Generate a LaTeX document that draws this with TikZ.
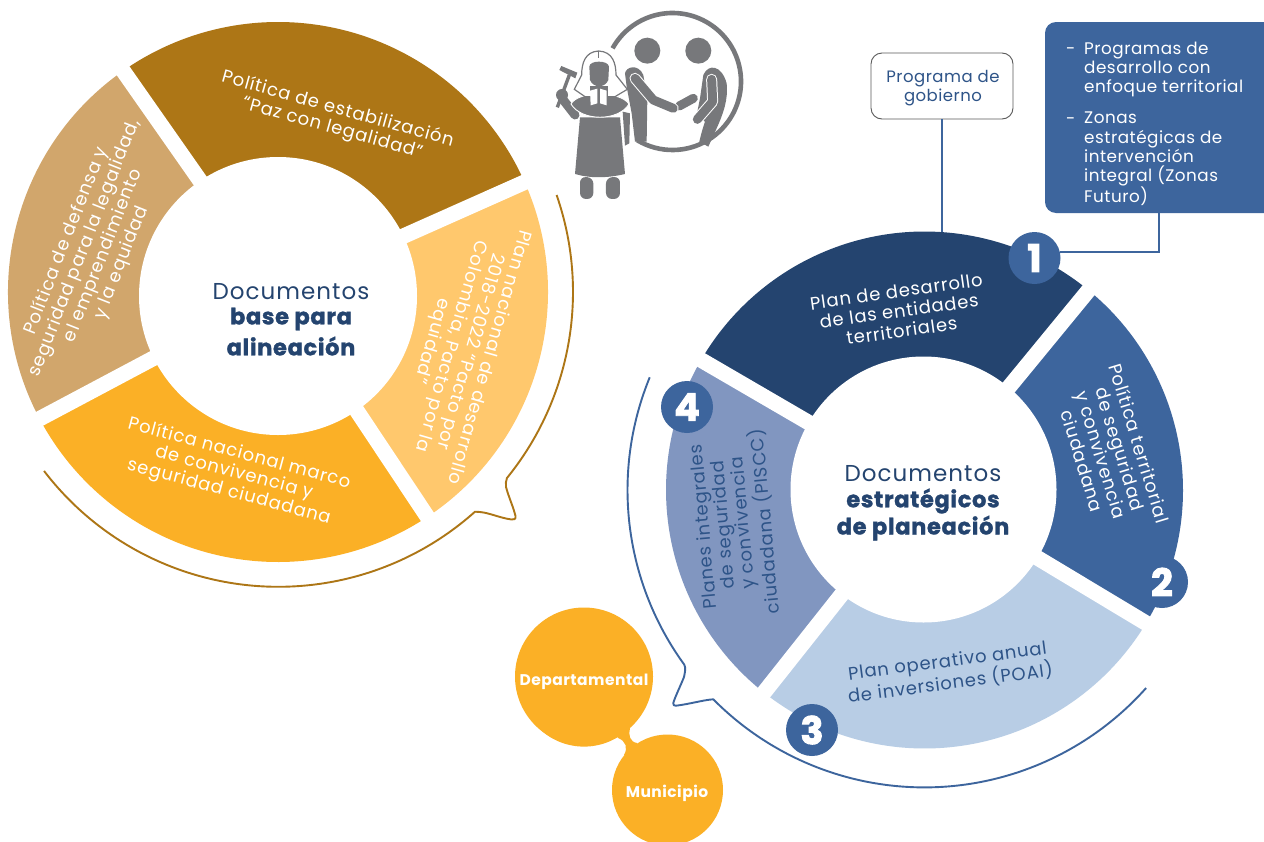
\documentclass[tikz,border=0pt]{standalone}
\usepackage{fontspec}
\setmainfont{Poppins}
\newfontfamily\bodyf[LetterSpace=4.5]{Poppins}
\newfontfamily\sidef[LetterSpace=3]{Poppins}
\newfontfamily\heavyf[LetterSpace=3,BoldFeatures={FakeBold=1.4}]{Poppins}
\newfontfamily\lvlf[LetterSpace=3]{Poppins}
\newfontfamily\numf[BoldFeatures={FakeBold=2.5}]{Poppins}
\definecolor{cbrown}{HTML}{AD7616}
\definecolor{ctan}{HTML}{D1A66C}
\definecolor{clight}{HTML}{FFC86D}
\definecolor{corange}{HTML}{FBB026}
\definecolor{cdark}{HTML}{24446F}
\definecolor{ctext}{HTML}{2E5488}
\definecolor{cblue}{HTML}{3D659D}
\definecolor{cpale}{HTML}{B8CDE5}
\definecolor{cmid}{HTML}{8196C0}
\definecolor{cgray}{HTML}{77787B}
\tikzset{
  lbl/.style={font=\bodyf\fontsize{18}{19.8}\selectfont,align=center,inner sep=0pt,text=white},
  lblb/.style={lbl,text=ctext},
  head/.style={font=\bodyf\fontsize{23}{27}\selectfont,align=center,inner sep=0pt,text=cdark},
  headb/.style={font=\heavyf\bfseries\fontsize{22.5}{27}\selectfont,align=center,inner sep=0pt,text=cdark},
  badge/.style={circle,fill=cblue,minimum size=52pt,inner sep=0pt,text=white,font=\numf\bfseries\fontsize{38}{38}\selectfont},
  gap/.style={white,line width=15.5pt},
  lvl/.style={circle,fill=corange,inner sep=0pt,text=white,font=\lvlf\bfseries\fontsize{15.5}{17}\selectfont},
  sidet/.style={font=\sidef\fontsize{16.8}{19.1}\selectfont,align=left,inner sep=0pt,text=white,anchor=north west},
  dasht/.style={font=\sidef\fontsize{16.8}{19.1}\selectfont,inner sep=0pt,text=white,anchor=base west},
  iconf/.style={fill=cgray,draw=none},
  arm/.style={line cap=round,line join=round,line width=9pt,cgray},
  armw/.style={line cap=round,line join=round,line width=11pt,white},
}
\begin{document}
\begin{tikzpicture}[x=1pt,y=1pt]
\useasboundingbox (0,0) rectangle (1264,-841);
\fill[white] (0,0) rectangle (1264,-841);
\coordinate (lc) at (278,-292);
\coordinate (rc) at (924.5,-490);

% left callout
\draw[cbrown,line width=1.9pt,line join=round]
  ([shift={(19.2:295)}]lc) arc[start angle=19.2,end angle=-39.1,radius=295]
  .. controls (506,-481) and (505.5,-484) .. (506,-487)
  .. controls (509,-498) and (513,-506) .. (515.5,-516)
  .. controls (516,-519) and (514,-520) .. (511.7,-519.5)
  .. controls (500,-518) and (490,-513) .. (480,-512)
  -- (475,-511.7) arc[start angle=-48.2,end angle=-142.6,radius=295];
% right callout
\draw[cblue,line width=1.9pt,line join=round]
  ([shift={(157.7:297)}]rc) arc[start angle=157.7,end angle=216,radius=297]
  .. controls (686,-668) and (685,-672) .. (684,-677)
  .. controls (680,-687) and (675,-697) .. (673.3,-703)
  .. controls (673,-705) and (674,-706) .. (676,-705.7)
  .. controls (690,-704) and (703,-700) .. (713.3,-699.3)
  arc[start angle=224.7,end angle=318.3,radius=297];

% left donut
\fill[cbrown] (lc) -- ([shift={(24:270)}]lc) arc[start angle=24,end angle=125,radius=270] -- cycle;
\fill[ctan] (lc) -- ([shift={(125:270)}]lc) arc[start angle=125,end angle=208,radius=270] -- cycle;
\fill[corange] (lc) -- ([shift={(208:270)}]lc) arc[start angle=208,end angle=303.6,radius=270] -- cycle;
\fill[clight] (lc) -- ([shift={(303.6:270)}]lc) arc[start angle=303.6,end angle=384,radius=270] -- cycle;
\draw[gap] (lc) -- ([shift={(24:274)}]lc);
\draw[gap] (lc) -- ([shift={(125:274)}]lc);
\draw[gap] (lc) -- ([shift={(208:274)}]lc);
\draw[gap] (lc) -- ([shift={(303.6:274)}]lc);
\fill[white] (278,-296) circle[radius=139];

% right donut connectors
\node[draw=black!65,fill=white,rounded corners=11pt,line width=0.9pt,minimum width=142pt,minimum height=66pt,inner sep=0pt] (prog) at (942,-86) {};
\node[font=\sidef\fontsize{16.5}{19.2}\selectfont,align=center,inner sep=0pt,text=ctext] (progt) at (943,-88.5) {Programa de\\gobierno};
\coordinate (progend) at (942,-240);
\draw[cblue,line width=2pt] (prog.south) -- (progend);
\node[fill=cblue,rounded corners=11pt,minimum width=240pt,minimum height=191pt,inner sep=0pt] (side) at (1165,-117.5) {};

% right donut
\fill[cdark] (rc) -- ([shift={(50.6:258.5)}]rc) arc[start angle=50.6,end angle=149.8,radius=258.5] -- cycle;
\fill[cmid] (rc) -- ([shift={(149.8:258.5)}]rc) arc[start angle=149.8,end angle=231.6,radius=258.5] -- cycle;
\fill[cpale] (rc) -- ([shift={(231.6:258.5)}]rc) arc[start angle=231.6,end angle=329,radius=258.5] -- cycle;
\fill[cblue] (rc) -- ([shift={(329:258.5)}]rc) arc[start angle=329,end angle=410.6,radius=258.5] -- cycle;
\draw[gap] (rc) -- ([shift={(50.6:262)}]rc);
\draw[gap] (rc) -- ([shift={(149.8:262)}]rc);
\draw[gap] (rc) -- ([shift={(231.6:262)}]rc);
\draw[gap] (rc) -- ([shift={(329:262)}]rc);
\fill[white] (923.5,-489.5) circle[radius=133];

% badges
\node[badge] (b1) at (1034.5,-258) {1};
\node[badge] (b2) at (1162,-582) {2};
\node[badge] (b3) at (812,-730) {3};
\node[badge] (b4) at (687,-407) {4};
\coordinate (sidec) at (1158.5,-213);
\draw[cblue,line width=2pt] (sidec) |- (b1.13);

% side box text
\node[dasht] (d1) at (1066,-54) {-};
\node[sidet] (s1) at (1084,-42) {Programas de\\desarrollo con\\enfoque territorial};
\node[dasht] (d2) at (1066,-124) {-};
\node[sidet] (s2) at (1084,-112) {Zonas\\estratégicas de\\intervención\\integral (Zonas\\Futuro)};

% left labels
\node[lbl,rotate=-15.6] (t1) at (335,-119) {Política de estabilización\\“Paz con legalidad”};
\node[lbl,rotate=68.5] (t2) at (94,-252) {Política de defensa y\\seguridad para la legalidad,\\el emprendimiento\\y la equidad};
\node[lbl,rotate=-106] (t3) at (460,-349) {Plan nacional de desarrollo\\2018-2022 “Pacto por\\Colombia, Pacto por la\\equidad”};
\node[lbl,rotate=-15] (t4) at (234,-473) {Política nacional marco\\de convivencia y\\seguridad ciudadana};
\node[head] (h1) at (291,-292) {Documentos};
\node[headb] (h2) at (291,-319) {base para};
\node[headb] (h3) at (291,-346) {alineación};

% right labels
\node[lbl,rotate=8] (r1) at (899,-311) {Plan de desarrollo\\de las entidades\\territoriales};
\node[lbl,rotate=-73] (r2) at (1111,-452) {Política territorial\\de seguridad\\y convivencia\\ciudadana};
\node[lblb,rotate=7.5] (r3) at (949,-673) {Plan operativo anual\\de inversiones (POAI)};
\node[lblb,rotate=95] (r4) at (735,-524) {Planes integrales\\de seguridad\\y convivencia\\ciudadana (PISCC)};
\node[head] (h4) at (923,-474) {Documentos};
\node[headb] (h5) at (923,-501) {estratégicos};
\node[headb] (h6) at (923,-528) {de planeación};

% level bubbles
\fill[corange] (618,-738) .. controls (626,-741) and (628,-748) .. (624,-755) -- (640,-762)
  -- (637,-743) .. controls (630,-742) and (628,-735) .. (630,-728) -- (610,-720) -- cycle;
\node[lvl,minimum size=138pt] (dep) at (584,-676.5) {};
\node[lvl,minimum size=111pt] (mun) at (667.5,-790) {};
\node[lvl] (dept) at (584,-682) {Departamental};
\node[lvl] (munt) at (667,-793) {Municipio};

% icon
\begin{scope}[shift={(540,0)},x=0.3333pt,y=-0.3333pt]
  % left person
  \fill[iconf] (255,220) .. controls (258,200) and (295,190) .. (310,225) -- (322,300) -- (320,425) -- (285,425) -- (275,340) -- (260,260) -- cycle;
  % right person
  \fill[iconf] (490,225) .. controls (505,190) and (545,195) .. (560,250) .. controls (565,300) and (550,340) .. (530,385) -- (505,440) -- (478,425) .. controls (485,395) and (490,380) .. (495,365) -- (470,345) -- (480,295) -- cycle;
  \draw[arm] (460,295) -- (418,318);
  \draw[armw] (515,238) -- (518,305) -- (472,358);
  \draw[arm] (515,238) -- (518,305) -- (472,358);
  \draw[armw] (285,235) -- (340,300) -- (400,325);
  \draw[arm] (285,235) -- (340,300) -- (400,325);
  % gavel
  \draw[cgray,line width=3.4pt] (88,225) -- (52,322);
  \fill[iconf] (58,210) -- (64,198) -- (112,218) -- (106,235) -- cycle;
  \fill[iconf] (66,285) circle[radius=6pt];
  \draw[cgray,line width=9pt,line cap=round] (70,300) -- (105,345);
  % robe
  \fill[iconf] (248,335) -- (270,340) -- (268,430) -- (255,437) -- cycle;
  \fill[iconf] (120,352) -- (240,352) -- (255,522) .. controls (200,535) and (150,535) .. (105,522) -- cycle;
  \fill[iconf,draw=white,line width=0.9pt] (93,312) .. controls (115,272) and (240,272) .. (267,312) .. controls (235,365) and (125,365) .. (93,312) -- cycle;
  % wig
  \fill[white,draw=cgray,line width=1.2pt] (176,153) .. controls (135,155) and (125,190) .. (125,225) -- (103,268) -- (135,290) -- (225,290) -- (262,268) -- (228,225) .. controls (228,190) and (218,155) .. (176,153) -- cycle;
  \draw[cgray,line width=1.2pt] (176,153) -- (176,175);
  \fill[iconf] (148,200) .. controls (148,180) and (205,180) .. (207,200) -- (205,240) .. controls (195,265) and (160,265) .. (150,240) -- cycle;
  \fill[iconf] (150,258) -- (205,258) -- (205,300) -- (150,300) -- cycle;
  \fill[white] (150,272) -- (172,266) -- (172,310) -- (152,316) -- cycle;
  \fill[white] (180,266) -- (200,272) -- (200,316) -- (180,310) -- cycle;
  % legs
  \fill[iconf,rounded corners=6pt] (120,530) -- (160,533) -- (160,597) -- (120,597) -- cycle;
  \fill[iconf,rounded corners=6pt] (198,533) -- (240,530) -- (240,597) -- (198,597) -- cycle;
  % heads
  \fill[iconf] (322,152) circle[radius=13pt];
  \fill[iconf] (475,152) circle[radius=13pt];
\end{scope}
\draw[cgray,line width=4.6pt] ([shift={(151:68.5)}]672.5,-81.5) arc[start angle=151,end angle=-121,radius=68.5];
\end{tikzpicture}
\end{document}
